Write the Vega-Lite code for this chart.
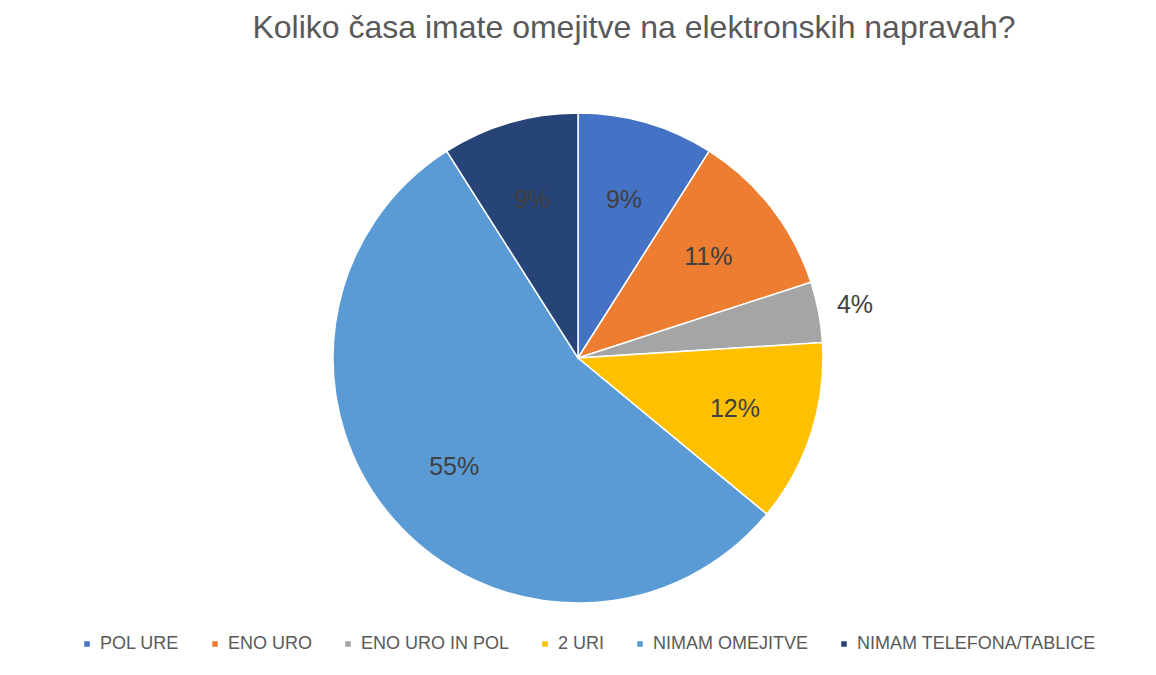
{
  "$schema": "https://vega.github.io/schema/vega-lite/v6.json",
  "autosize": {"type": "fit", "contains": "padding"},
  "width": 1156,
  "height": 675,
  "padding": {"top": 12, "bottom": 18, "left": 10, "right": 10},
  "background": "white",
  "title": {
    "text": "Koliko časa imate omejitve na elektronskih napravah?",
    "font": "Liberation Sans",
    "fontSize": 32,
    "fontWeight": "normal",
    "color": "#595959",
    "anchor": "middle",
    "dx": 56,
    "offset": 14
  },
  "data": {
    "values": [
      {"kategorija": "POL URE", "delez": 0.09, "red": 1},
      {"kategorija": "ENO URO", "delez": 0.11, "red": 2},
      {"kategorija": "ENO URO IN POL", "delez": 0.04, "red": 3},
      {"kategorija": "2 URI", "delez": 0.12, "red": 4},
      {"kategorija": "NIMAM OMEJITVE", "delez": 0.55, "red": 5},
      {"kategorija": "NIMAM TELEFONA/TABLICE", "delez": 0.09, "red": 6}
    ]
  },
  "encoding": {
    "theta": {"field": "delez", "type": "quantitative", "stack": true},
    "order": {"field": "red", "type": "quantitative"}
  },
  "layer": [
    {
      "mark": {"type": "arc", "outerRadius": 245, "stroke": "white", "strokeWidth": 1.5},
      "encoding": {
        "color": {
          "field": "kategorija",
          "type": "nominal",
          "sort": ["POL URE", "ENO URO", "ENO URO IN POL", "2 URI", "NIMAM OMEJITVE", "NIMAM TELEFONA/TABLICE"],
          "scale": {
            "domain": ["POL URE", "ENO URO", "ENO URO IN POL", "2 URI", "NIMAM OMEJITVE", "NIMAM TELEFONA/TABLICE"],
            "range": ["#4472C4", "#ED7D31", "#A5A5A5", "#FFC000", "#5B9BD5", "#264478"]
          },
          "legend": {
            "orient": "none",
            "legendX": 68,
            "legendY": 576,
            "direction": "horizontal",
            "title": null,
            "symbolType": "square",
            "symbolSize": 50,
            "labelFont": "Liberation Sans",
            "labelFontSize": 18,
            "labelColor": "#595959",
            "labelLimit": 400,
            "columnPadding": 26
          }
        }
      }
    },
    {
      "mark": {"type": "text", "radius": 165, "font": "Liberation Sans", "fontSize": 25, "color": "#404040"},
      "encoding": {
        "text": {"condition": {"test": "datum.delez >= 0.05", "field": "delez", "type": "quantitative", "format": ".0%"}, "value": ""}
      }
    },
    {
      "mark": {"type": "text", "radius": 282, "font": "Liberation Sans", "fontSize": 25, "color": "#404040"},
      "encoding": {
        "text": {"condition": {"test": "datum.delez < 0.05", "field": "delez", "type": "quantitative", "format": ".0%"}, "value": ""}
      }
    }
  ]
}
